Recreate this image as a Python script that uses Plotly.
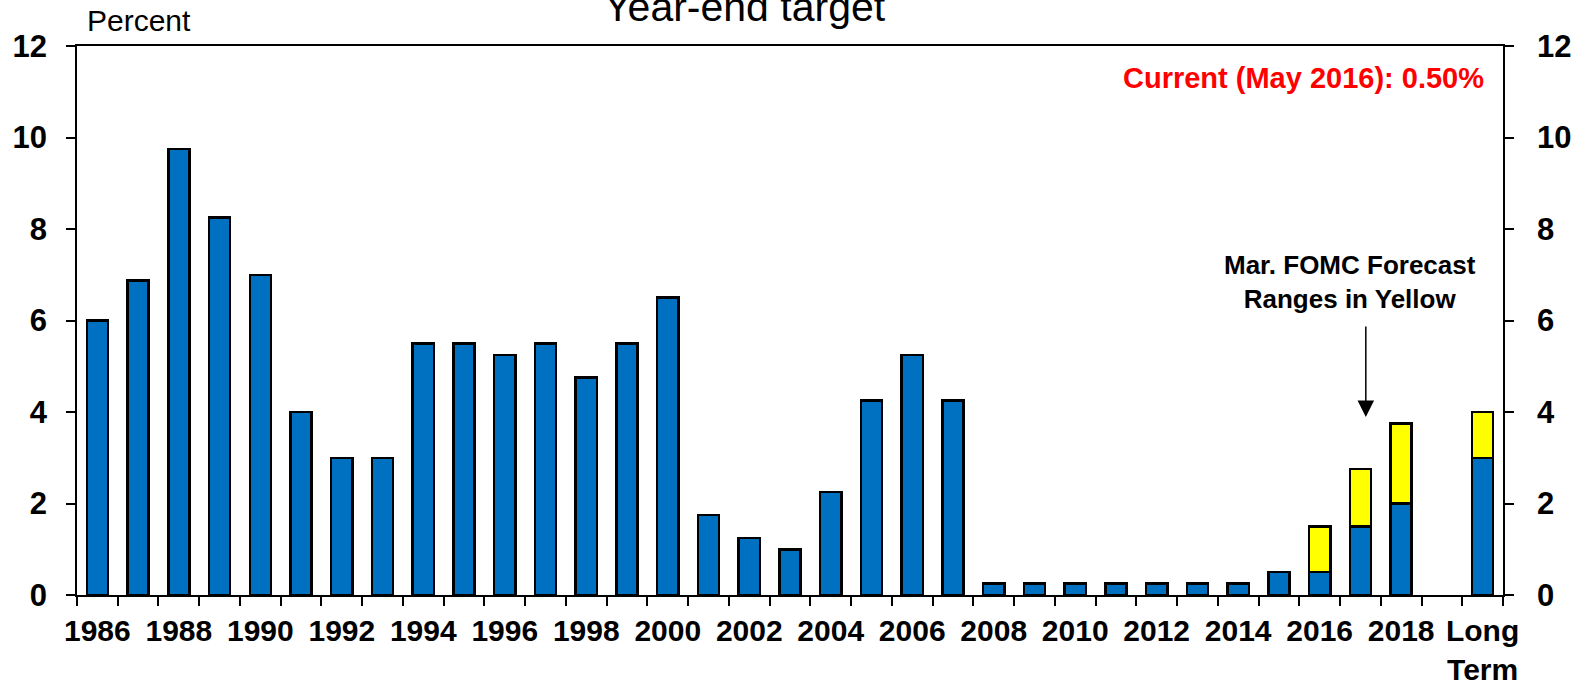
import plotly.graph_objects as go

# Federal funds rate, year-end target (percent)
years = [str(y) for y in range(1986, 2019)]
categories = years + ["", "Long<br>Term"]

fed_funds_low = [6.0, 6.875, 9.75, 8.25, 7.0, 4.0, 3.0, 3.0, 5.5, 5.5,
                 5.25, 5.5, 4.75, 5.5, 6.5, 1.75, 1.25, 1.0, 2.25, 4.25,
                 5.25, 4.25, 0.25, 0.25, 0.25, 0.25, 0.25, 0.25, 0.25, 0.5,
                 0.5, 1.5, 2.0, None, 3.0]

# Upper end of the March FOMC forecast ranges
forecast_labels = ["2016", "2017", "2018", "Long<br>Term"]
forecast_high = [1.5, 2.75, 3.75, 4.0]

x_pos = list(range(len(categories)))
range_top = [None] * len(categories)
for lab, hi in zip(forecast_labels, forecast_high):
    i = categories.index(lab)
    range_top[i] = hi - fed_funds_low[i]

label_idx = list(range(0, len(years), 2)) + [categories.index("Long<br>Term")]

FONT = "Liberation Sans, Arial, sans-serif"
BLUE = "#0070C0"
YELLOW = "#FFFF00"

fig = go.Figure()
fig.add_trace(go.Bar(
    x=x_pos, y=fed_funds_low, width=0.52,
    marker=dict(color=BLUE, line=dict(color="black", width=2.5)),
    yaxis="y",
))
fig.add_trace(go.Bar(
    x=x_pos, y=range_top, width=0.52,
    marker=dict(color=YELLOW, line=dict(color="black", width=2.5)),
    yaxis="y",
))

# invisible trace to carry the right-hand axis
fig.add_trace(go.Scatter(x=[0], y=[0], yaxis="y2", mode="markers",
                         marker=dict(opacity=0), hoverinfo="skip"))

fig.update_layout(
    width=1573, height=684,
    margin=dict(l=77, r=70, t=46, b=89),
    paper_bgcolor="white", plot_bgcolor="white",
    barmode="stack", showlegend=False,
    font=dict(family=FONT, color="black"),
    xaxis=dict(
        range=[-0.5, len(categories) - 0.5],
        tickvals=label_idx,
        ticktext=[categories[i] for i in label_idx],
        ticks="", showgrid=False, zeroline=False, automargin=False,
        showline=True, linecolor="black", linewidth=1.5, mirror=True,
        tickfont=dict(size=30, family=FONT, weight="bold"),
        ticklabelstandoff=8,
        minor=dict(tickvals=[i - 0.5 for i in range(len(categories) + 1)],
                   ticks="outside", ticklen=9, tickcolor="black", tickwidth=1.5,
                   showgrid=False),
    ),
    yaxis=dict(
        range=[0, 12], tickvals=[0, 2, 4, 6, 8, 10, 12],
        ticks="outside", ticklen=9, tickcolor="black", tickwidth=1.5,
        showgrid=False, zeroline=False, automargin=False,
        showline=True, linecolor="black", linewidth=1.5,
        tickfont=dict(size=31, family=FONT, weight="bold"),
        ticklabelstandoff=13,
    ),
    yaxis2=dict(
        range=[0, 12], tickvals=[0, 2, 4, 6, 8, 10, 12],
        overlaying="y", side="right", automargin=False,
        ticks="outside", ticklen=9, tickcolor="black", tickwidth=1.5,
        showgrid=False, zeroline=False,
        showline=True, linecolor="black", linewidth=1.5,
        tickfont=dict(size=31, family=FONT, weight="bold"),
        ticklabelstandoff=17,
    ),
)

fig.add_annotation(text="Year-end target", xref="paper", yref="paper",
                   x=0.4685, y=1.0705, xanchor="center", yanchor="middle",
                   showarrow=False, font=dict(size=41, family=FONT))
fig.add_annotation(text="Percent", xref="paper", yref="paper",
                   x=0.0058, y=1.0468, xanchor="left", yanchor="middle",
                   showarrow=False, font=dict(size=30, family=FONT))
fig.add_annotation(text="Current (May 2016): 0.50%", xref="paper", yref="paper",
                   x=0.9879, y=0.941, xanchor="right", yanchor="middle",
                   showarrow=False,
                   font=dict(size=29, family=FONT, color="#FF0000", weight="bold"))
fig.add_annotation(text="Mar. FOMC Forecast<br>Ranges in Yellow",
                   xref="paper", yref="paper", x=0.8925, y=0.5707,
                   xanchor="center", yanchor="middle", showarrow=False,
                   font=dict(size=26, family=FONT, weight="bold"))
fig.add_annotation(text="", xref="paper", yref="y", x=0.9038, y=3.89,
                   ax=0, ay=-92, showarrow=True, arrowhead=2, arrowsize=2.2,
                   arrowwidth=1.5, arrowcolor="black")

fig.write_html("out.html")
